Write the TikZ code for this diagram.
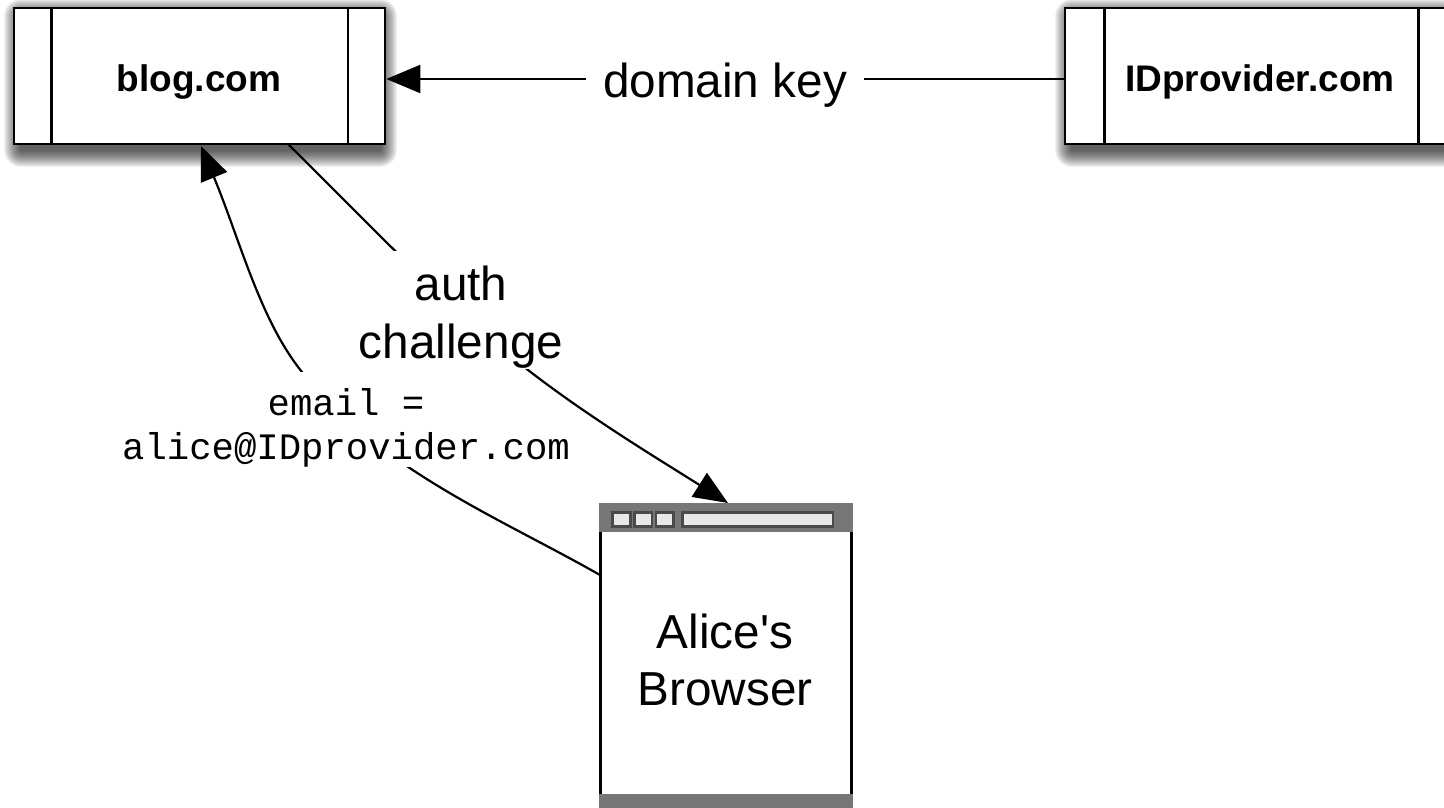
\documentclass[tikz,border=0pt]{standalone}
\usepackage{fontspec}
\setmainfont{Liberation Sans}
\setmonofont{Liberation Mono}
\newfontfamily\plainsans{Liberation Sans}
\usetikzlibrary{arrows.meta}
\definecolor{chrome}{HTML}{777777}
\definecolor{chromeedge}{HTML}{4A4A4A}
\definecolor{chromefill}{HTML}{E8E8E8}
\newcommand{\softshadow}[4]{%
  \foreach \r in {16,15,...,0}{
    \fill[black,fill opacity=0.05,rounded corners=\r pt+1pt]
      (#1-\r+6,#2+7-\r) rectangle (#3+\r-4,#4+7+\r);
  }}
\tikzset{
  x=1pt,y=-1pt,
  boxline/.style={line width=2.6pt,draw=black},
  hostbox/.style={boxline,fill=white,inner sep=0pt,minimum height=136pt},
  hostname/.style={inner sep=0pt,font=\fontsize{37}{44}\selectfont\bfseries},
  link/.style={line width=2.2pt,draw=black},
  linkarrow/.style={link,-{Triangle[length=34pt,width=28pt]}},
  biglabel/.style={fill=white,inner sep=0pt,align=center,font=\fontsize{47.7}{58}\selectfont},
  monolabel/.style={fill=white,inner sep=0pt,align=center,font=\fontsize{37.3}{44.5}\selectfont\ttfamily},
  chromebar/.style={fill=chrome,draw=none},
  chromebtn/.style={fill=chromefill,draw=chromeedge,line width=2.6pt},
}
\begin{document}
\begin{tikzpicture}
\clip (0,0) rectangle (1444,807);
\fill[white] (0,0) rectangle (1444,807);
% shadows
\softshadow{14}{8}{385}{144}
\softshadow{1065}{8}{1455}{144}
% hosts
\node[hostbox,minimum width=371pt] (blog) at (199.5,76) {};
\node[hostbox,minimum width=390pt] (idp) at (1260,76) {};
\node[hostname] (blogname) at (199,82) {blog.com};
\node[hostname] (idpname) at (1260,82) {IDprovider.com};
\draw[boxline] (blog.north west)++(38.5,0) coordinate (bl1t) -- (bl1t |- blog.south);
\draw[boxline] (blog.north east)++(-38.5,0) coordinate (bl2t) -- (bl2t |- blog.south);
\draw[boxline] (idp.north west)++(40.5,0) coordinate (id1t) -- (id1t |- idp.south);
\draw[boxline] (idp.north east)++(-38,0) coordinate (id2t) -- (id2t |- idp.south);
% browser
\node[draw=black,line width=3pt,fill=white,inner sep=0pt,minimum width=251pt,minimum height=303pt] (browser) at (725.5,655.5) {};
\node[inner sep=0pt,align=center,font=\fontsize{47.7}{57}\selectfont\plainsans] (browserlabel) at (725,660) {Alice's\\Browser};
\fill[chromebar] (browser.north west) rectangle ([yshift=-29pt]browser.north east);
\fill[chromebar] ([yshift=15pt]browser.south west) rectangle (browser.south east);
\draw[chromebtn] (612.5,512.5) rectangle (630.5,526.5);
\draw[chromebtn] (634.5,512.5) rectangle (652,526.5);
\draw[chromebtn] (656,512.5) rectangle (673.5,526.5);
\draw[chromebtn] (682.5,512.5) rectangle (833,526.5);
% connector end points
\coordinate (domainEnd) at ([xshift=0pt,yshift=-3pt]blog.east);
\coordinate (domainStart) at ([yshift=-3pt]idp.west);
\coordinate (emailStart) at (600,575);
\coordinate (emailMid) at (302,372);
\coordinate (blogIn) at (201,146);
\coordinate (blogOut) at (288,144);
\coordinate (authMid) at (528,370);
\coordinate (browserIn) at (728,503);
% connectors and labels
\draw[linkarrow] (domainStart) -- (domainEnd);
\node[biglabel,minimum width=278pt,minimum height=58pt] (domainkey) at (725,85) {domain key};
\draw[linkarrow] (emailStart) .. controls (500,518) and (380,470) .. (emailMid)
   .. controls (260,320) and (240,240) .. (blogIn);
\node[monolabel,anchor=south] (email) at (346,467.5) {\rule{0pt}{43pt}email =\\alice@IDprovider.com};
\draw[linkarrow] (blogOut) .. controls (380,235) and (450,310) .. (authMid)
   .. controls (590,418) and (660,460) .. (browserIn);
\node[biglabel,minimum width=204pt,anchor=south] (auth) at (461,369) {\rule{0pt}{50pt}auth\\challenge};
\end{tikzpicture}
\end{document}
